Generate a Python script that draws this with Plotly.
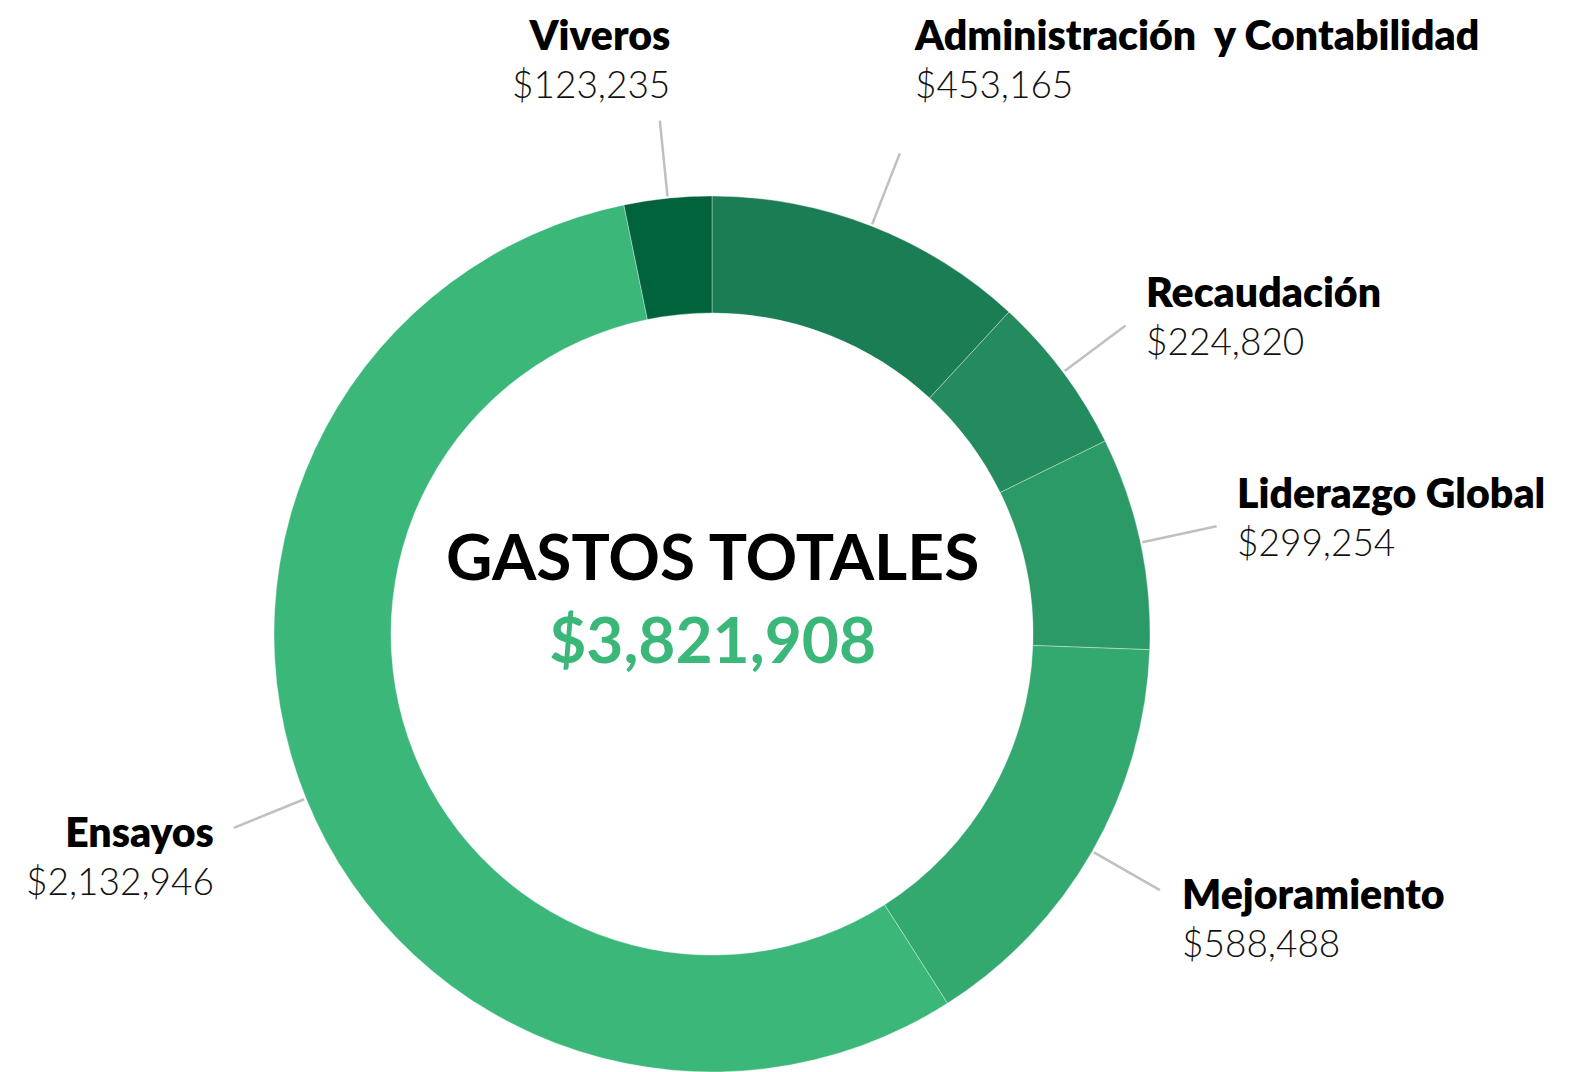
import math
import plotly.graph_objects as go

# ----------------------------- DONNÉES ----------------------------- #
categorias = ["Administración  y Contabilidad", "Recaudación", "Liderazgo Global",
              "Mejoramiento", "Ensayos", "Viveros"]
gastos = [453165, 224820, 299254, 588488, 2132946, 123235]
colores = ["#1b7d54", "#238b5d", "#2b9a66", "#33a970", "#3bb77a", "#00633b"]

titulo_centro = "GASTOS TOTALES"

# ----------------------------- GÉOMÉTRIE ----------------------------- #
W, H = 1573, 1072
cx, cy = 712, 634          # centre du donut (px)
r_ext = 438                # rayon extérieur (px)
r_trait0, r_trait1 = 440, 516   # début / fin des traits de rappel
FONT = "Lato"


def px2paper(x, y):
    return x / W, 1 - y / H


total = sum(gastos)

fig = go.Figure()

x0, y0 = px2paper(cx - r_ext, cy - r_ext)
x1, y1 = px2paper(cx + r_ext, cy + r_ext)
fig.add_trace(go.Pie(
    labels=categorias,
    values=gastos,
    hole=0.733,
    sort=False,
    direction="clockwise",
    rotation=0,
    marker=dict(colors=colores, line=dict(color="rgba(255,255,255,0.35)", width=1)),
    textinfo="none",
    hovertemplate="%{label}: $%{value:,}<extra></extra>",
    domain=dict(x=[x0, x1], y=[max(y1, 0), y0]),
    showlegend=False,
))

# Traits de rappel + étiquettes
cumul = 0
for nom, val in zip(categorias, gastos):
    theta = math.radians(360 * (cumul + val / 2) / total)
    cumul += val
    s, c = math.sin(theta), math.cos(theta)
    xa, ya = cx + r_trait0 * s, cy - r_trait0 * c
    xb, yb = cx + r_trait1 * s, cy - r_trait1 * c
    pa, pb = px2paper(xa, ya), px2paper(xb, yb)
    fig.add_shape(type="line", xref="paper", yref="paper",
                  x0=pa[0], y0=pa[1], x1=pb[0], y1=pb[1],
                  line=dict(color="#c0c0c0", width=2.5))

    droite = s >= 0
    if c > 0.8:
        # étiquettes du haut : calées en haut de la figure
        xt, yt, yanchor = xb + 12, 8, "top"
    elif c > 0:
        xt, yt, yanchor = xb + (18 if droite else -18), yb - 10, "middle"
    else:
        xt, yt, yanchor = xb + (20 if droite else -18), yb + 27, "middle"
    pt = px2paper(xt, yt)
    fig.add_annotation(
        xref="paper", yref="paper", x=pt[0], y=pt[1],
        xanchor="left" if droite else "right", yanchor=yanchor,
        align="left" if droite else "right",
        showarrow=False,
        text=(f"<span style='font-weight:800;font-size:41px;color:#000'>"
              f"{nom.replace('  ', '&nbsp; ')}</span><br>${val:,}"),
        font=dict(family=FONT, size=37, color="#111111", weight=300),
    )

# Texte central
pc = px2paper(cx, cy - 37)
fig.add_annotation(
    xref="paper", yref="paper", x=pc[0], y=pc[1],
    xanchor="center", yanchor="middle", showarrow=False,
    text=f"<b>{titulo_centro}</b><br><b><span style='color:#3bb77a'>${total:,}</span></b>",
    font=dict(family=FONT, size=64, color="#000000"),
)

fig.update_layout(
    width=W, height=H,
    margin=dict(l=0, r=0, t=0, b=0),
    paper_bgcolor="white",
    plot_bgcolor="white",
)

fig.write_html("out.html", config={"displayModeBar": False},
               post_script="document.body.style.margin='0';")
